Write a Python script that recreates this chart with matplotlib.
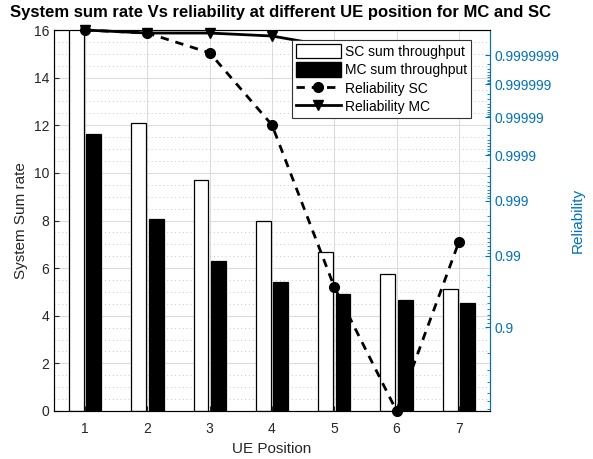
import numpy as np
import matplotlib
matplotlib.use("Agg")
import matplotlib.pyplot as plt
from matplotlib.lines import Line2D
from matplotlib.patches import Patch

plt.rcParams['font.family'] = ['Liberation Sans', 'DejaVu Sans']

# data
positions = [1, 2, 3, 4, 5, 6, 7]
sc_rate = [16.8, 12.08, 9.68, 7.96, 6.69, 5.77, 5.14]
mc_rate = [11.62, 8.08, 6.32, 5.43, 4.93, 4.67, 4.55]
rel_sc = [0.999999989, 0.9999999855, 0.999999917, 0.9999836, 0.9703, 0.2705, 0.99411]
rel_mc = [0.999999989, 0.9999999855, 0.9999999855, 0.999999981, 0.99999995, 0.9999999, 0.99999982]
rel_ticks = [0.9, 0.99, 0.999, 0.9999, 0.99999, 0.999999, 0.9999999]
rel_labels = ['0.9', '0.99', '0.999', '0.9999', '0.99999', '0.999999', '0.9999999']

BLUE = '#0072BD'
DARK = '#262626'


def fwd(r):
    r = np.asarray(r, dtype=float)
    q = np.clip(1 - r, 1e-12, 0.999)
    return np.log10(-np.log10(q) + 2)


def inv(t):
    t = np.asarray(t, dtype=float)
    return 1 - 10 ** (-(10 ** t - 2))


fig = plt.figure(figsize=(5.93, 4.59), dpi=100)
ax = fig.add_axes([54 / 593, 1 - 411 / 459, 436 / 593, 381 / 459])

x = np.array(positions, dtype=float)
w = 0.24
ax.bar(x - 0.14, sc_rate, w, color='white', edgecolor='black', linewidth=0.9, zorder=2)
ax.bar(x + 0.14, mc_rate, w, color='black', edgecolor='black', linewidth=0.9, zorder=2)

ax.set_xlim(0.5, 7.5)
ax.set_ylim(0, 16)
ax.set_xticks(positions)
ax.set_yticks(range(0, 17, 2))
ax.set_yticks(np.arange(0, 16.01, 0.5), minor=True)
ax.set_axisbelow(True)
ax.grid(True, which='major', color='#dcdcdc', linewidth=0.8)
ax.grid(True, which='minor', axis='y', color='#c8c8c8', linestyle=(0, (1, 3)), linewidth=0.7)
ax.tick_params(which='both', direction='in', colors=DARK, labelsize=10)
ax.tick_params(which='minor', length=0)
ax.tick_params(axis='x', pad=8)
for s in ax.spines.values():
    s.set_color('#555555')
ax.set_xlabel('UE Position', fontsize=11, color=DARK)
ax.set_ylabel('System Sum rate', fontsize=11, color=DARK)
fig.text(280 / 593, 1 - 12 / 459, 'System sum rate Vs reliability at different UE position for MC and SC',
         fontsize=12, fontweight='bold', ha='center', va='center')

ax2 = ax.twinx()
ax2.set_yscale('function', functions=(fwd, inv))
ax2.plot(x, rel_sc, color='black', linewidth=2, dashes=(3, 2.5), marker='o',
         markersize=7, markerfacecolor='black', zorder=3, clip_on=False)
ax2.plot(x, rel_mc, color='black', linewidth=2, marker='v',
         markersize=7, markerfacecolor='black', zorder=3, clip_on=False)
ax2.set_ylim(0.2705, 0.99999998904)
ax2.set_yticks(rel_ticks)
ax2.set_yticklabels(rel_labels)
minor = [1 - k * 10.0 ** (-n) for n in range(1, 8) for k in range(2, 10)]
minor = [m for m in minor if m > 0.2705]
ax2.set_yticks(minor, minor=True)
ax2.yaxis.set_minor_formatter(plt.NullFormatter())
ax2.tick_params(axis='y', which='both', direction='in', colors=BLUE, labelsize=10)
ax2.tick_params(axis='y', which='minor', length=2)
ax2.spines['right'].set_color(BLUE)
ax2.set_ylabel('Reliability', fontsize=11, color=BLUE, labelpad=8)

handles = [
    Patch(facecolor='white', edgecolor='black', linewidth=0.9),
    Patch(facecolor='black', edgecolor='black'),
    Line2D([], [], color='black', linewidth=2, dashes=(3, 2.5), marker='o', markersize=7),
    Line2D([], [], color='black', linewidth=2, marker='v', markersize=7),
]
labels = ['SC sum throughput', 'MC sum throughput', 'Reliability SC', 'Reliability MC']
leg = ax2.legend(handles, labels, loc='upper right', bbox_to_anchor=(471 / 593, 1 - 40 / 459),
                 bbox_transform=fig.transFigure, borderaxespad=0, fancybox=False,
                 framealpha=1, edgecolor='#333333', fontsize=10, handlelength=3.2,
                 handleheight=1.2, labelspacing=0.25, borderpad=0.3, handletextpad=0.3)
leg.get_frame().set_linewidth(0.8)

fig.savefig('out.png', dpi=100)
